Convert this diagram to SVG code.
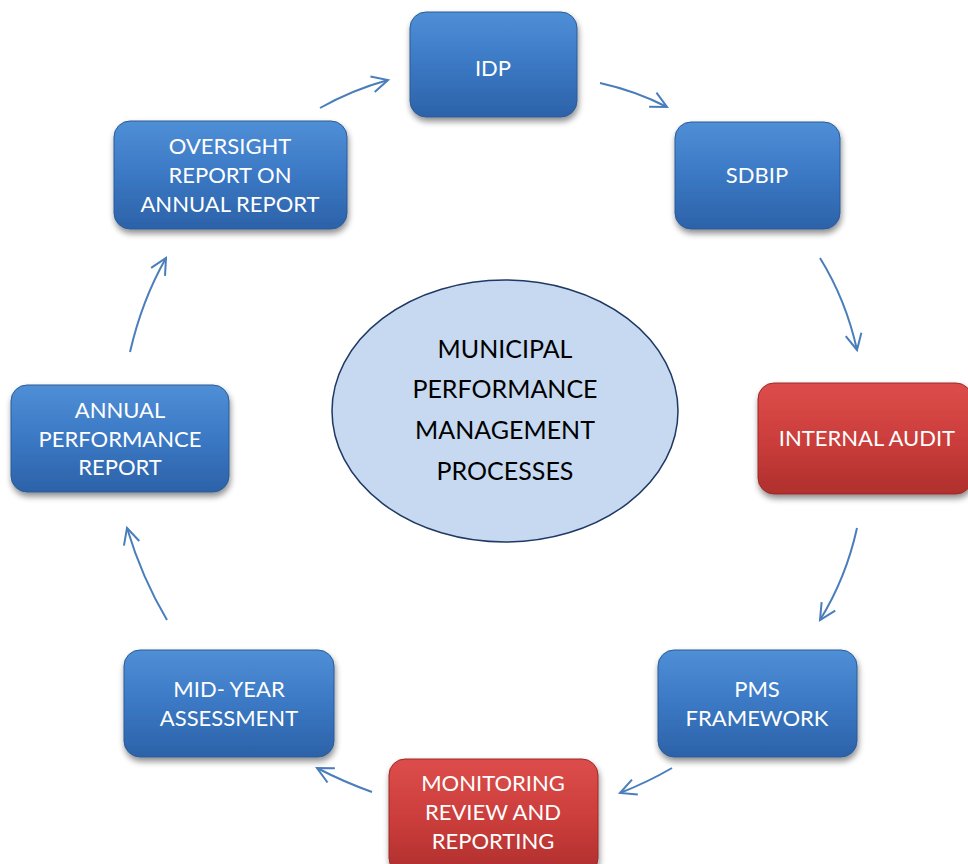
<svg xmlns="http://www.w3.org/2000/svg" width="968" height="864" viewBox="0 0 968 864">
<defs>
<linearGradient id="gb" x1="0" y1="0" x2="0" y2="1">
<stop offset="0" stop-color="#4f8fd6"/>
<stop offset="0.5" stop-color="#3b78c4"/>
<stop offset="1" stop-color="#2c62a8"/>
</linearGradient>
<linearGradient id="gr" x1="0" y1="0" x2="0" y2="1">
<stop offset="0" stop-color="#dc4d4a"/>
<stop offset="0.5" stop-color="#cc3e3c"/>
<stop offset="1" stop-color="#b02f2d"/>
</linearGradient>
<filter id="sh" x="-10%" y="-10%" width="125%" height="130%">
<feGaussianBlur in="SourceAlpha" stdDeviation="3"/>
<feOffset dx="1" dy="4" result="o"/>
<feComponentTransfer><feFuncA type="linear" slope="0.45"/></feComponentTransfer>
<feMerge><feMergeNode/><feMergeNode in="SourceGraphic"/></feMerge>
</filter>
<marker id="ah" viewBox="0 0 20 20" refX="18" refY="10" markerWidth="20" markerHeight="20" markerUnits="userSpaceOnUse" orient="auto">
<path d="M2,2 L18,10 L2,18" fill="none" stroke="#4a7ebb" stroke-width="2"/>
</marker>
</defs>
<style>
.bb{fill:url(#gb);stroke:#2a5a98;stroke-width:1;filter:url(#sh)}
.rb{fill:url(#gr);stroke:#9a2a28;stroke-width:1;filter:url(#sh)}
.t{font-family:Lato,"Liberation Sans",sans-serif;font-size:22px;fill:#ffffff;text-anchor:middle}
.ct{font-family:Lato,"Liberation Sans",sans-serif;font-size:25px;fill:#000000;text-anchor:middle}
.c{fill:none;stroke:#4a7ebb;stroke-width:2;marker-end:url(#ah)}
</style>
<rect width="968" height="864" fill="#ffffff"/>
<g id="center">
<ellipse cx="505" cy="411" rx="173" ry="131" fill="#c6d9f1" stroke="#1f3864" stroke-width="1.5"/>
<text class="ct" x="505" y="358">MUNICIPAL</text>
<text class="ct" x="505" y="398">PERFORMANCE</text>
<text class="ct" x="505" y="439">MANAGEMENT</text>
<text class="ct" x="505" y="480">PROCESSES</text>
</g>
<g id="idp">
<rect class="bb" x="410" y="12" width="167" height="105" rx="16"/>
<text class="t" x="493" y="76">IDP</text>
</g>
<g id="sdbip">
<rect class="bb" x="675" y="122" width="165" height="107" rx="16"/>
<text class="t" x="757" y="183">SDBIP</text>
</g>
<g id="internal-audit">
<rect class="rb" x="758" y="383" width="214" height="111" rx="16"/>
<text class="t" x="867" y="446">INTERNAL AUDIT</text>
</g>
<g id="pms">
<rect class="bb" x="658" y="650" width="199" height="107" rx="16"/>
<text class="t" x="757" y="697">PMS</text>
<text class="t" x="757" y="726">FRAMEWORK</text>
</g>
<g id="monitoring">
<rect class="rb" x="389" y="759" width="209" height="115" rx="16"/>
<text class="t" x="493" y="791">MONITORING</text>
<text class="t" x="493" y="820">REVIEW AND</text>
<text class="t" x="493" y="849">REPORTING</text>
</g>
<g id="mid-year">
<rect class="bb" x="124" y="650" width="210" height="107" rx="16"/>
<text class="t" x="229" y="697">MID- YEAR</text>
<text class="t" x="229" y="726">ASSESSMENT</text>
</g>
<g id="annual">
<rect class="bb" x="11" y="385" width="218" height="107" rx="16"/>
<text class="t" x="120" y="418">ANNUAL</text>
<text class="t" x="120" y="447">PERFORMANCE</text>
<text class="t" x="120" y="475">REPORT</text>
</g>
<g id="oversight">
<rect class="bb" x="114" y="121" width="233" height="108" rx="16"/>
<text class="t" x="230" y="154">OVERSIGHT</text>
<text class="t" x="230" y="183">REPORT ON</text>
<text class="t" x="230" y="212">ANNUAL REPORT</text>
</g>
<g id="connectors">
<path class="c" d="M320,108 Q352,90 388,80"/>
<path class="c" d="M600,83 Q636,91 667,107"/>
<path class="c" d="M820,258 Q846,300 857,350"/>
<path class="c" d="M857,528 Q846,578 820,620"/>
<path class="c" d="M672,768 Q648,782 620,793"/>
<path class="c" d="M372,792 Q344,782 317,768"/>
<path class="c" d="M167,620 Q142,578 127,528"/>
<path class="c" d="M130,352 Q142,300 166,258"/>
</g>
</svg>
